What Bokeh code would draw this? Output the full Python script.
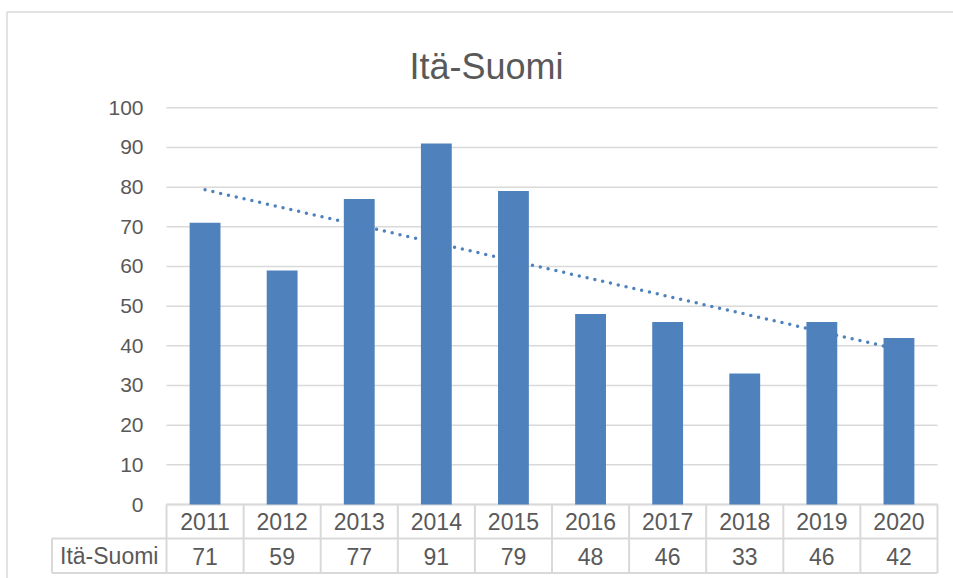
import numpy as np
from bokeh.plotting import figure
from bokeh.models import Range1d
from bokeh.core.properties import value
from bokeh.embed import file_html
from bokeh.resources import INLINE

# ---- data ----
title_text = "Itä-Suomi"
series_name = "Itä-Suomi"
years = ["2011", "2012", "2013", "2014", "2015", "2016", "2017", "2018", "2019", "2020"]
counts = [71, 59, 77, 91, 79, 48, 46, 33, 46, 42]
y_ticks = [0, 10, 20, 30, 40, 50, 60, 70, 80, 90, 100]

# ---- layout helpers (page px -> data units) ----
W, H = 953, 578
X0, SX = 166.0, 77.1   # page x of first category edge, px per category
Y0, SY = 504.0, 3.967  # page y of value 0, px per unit


def xd(px):
    return (px - X0) / SX


def yd(py):
    return (Y0 - py) / SY


FONT = value("Liberation Sans")
TXT = "#595959"
GRID = "#D9D9D9"
BAR = "#4F81BD"

p = figure(width=W, height=H, output_backend="svg", toolbar_location=None,
           x_range=Range1d(xd(0), xd(W)), y_range=Range1d(yd(H), yd(0)),
           x_axis_location=None, y_axis_location=None,
           min_border=0, min_border_left=0, min_border_right=0,
           min_border_top=0, min_border_bottom=0)
p.grid.visible = False
p.outline_line_color = None
p.background_fill_color = "white"
p.border_fill_color = "white"

n = len(counts)
xc = np.arange(n) + 0.5

# outer chart border (left & top visible)
p.segment(x0=[xd(6.5), xd(6.5)], y0=[yd(11.5), yd(11.5)],
          x1=[xd(W), xd(6.5)], y1=[yd(11.5), yd(H)],
          line_color=GRID, line_width=1.5)

# gridlines
p.segment(x0=[0] * len(y_ticks), x1=[n] * len(y_ticks), y0=y_ticks, y1=y_ticks,
          line_color=GRID, line_width=1.5)

# y tick labels
p.text(x=[xd(143)] * len(y_ticks), y=y_ticks, text=[str(t) for t in y_ticks],
       text_align="right", text_baseline="middle", text_font=FONT,
       text_font_size="21px", text_color=TXT)

# table lines
row_mid = yd(538)
row_bot = yd(572.5)
left_edge = xd(51.5)
p.segment(x0=list(range(n + 1)), x1=list(range(n + 1)), y0=[0] * (n + 1), y1=[row_bot] * (n + 1),
          line_color=GRID, line_width=2)
p.segment(x0=[left_edge, 0, left_edge, left_edge], x1=[left_edge, n, n, n],
          y0=[row_mid, 0, row_mid, row_bot], y1=[row_bot, 0, row_mid, row_bot],
          line_color=GRID, line_width=2)

# bars
p.vbar(x=xc, top=counts, bottom=0, width=0.4, fill_color=BAR, line_color=None)

# linear trend line
idx = np.arange(1, n + 1)
coef = np.polyfit(idx, counts, 1)
p.line(x=xc, y=np.polyval(coef, idx), line_color=BAR, line_width=3.5,
       line_dash="0 8", line_cap="round")

# table texts
p.text(x=xc, y=[yd(521)] * n, text=years, text_align="center", text_baseline="middle",
       text_font=FONT, text_font_size="23px", text_color=TXT)
p.text(x=xc, y=[yd(555.5)] * n, text=[str(v) for v in counts], text_align="center",
       text_baseline="middle", text_font=FONT, text_font_size="23px", text_color=TXT)
p.text(x=[left_edge / 2], y=[yd(555.5)], text=[series_name], text_align="center",
       text_baseline="middle", text_font=FONT, text_font_size="23px", text_color=TXT)

# title
p.text(x=[xd(486)], y=[yd(65.7)], text=[title_text], text_align="center",
       text_baseline="alphabetic", text_font=FONT, text_font_size="36px", text_color=TXT)

open("out.html", "w").write(file_html(p, INLINE))
